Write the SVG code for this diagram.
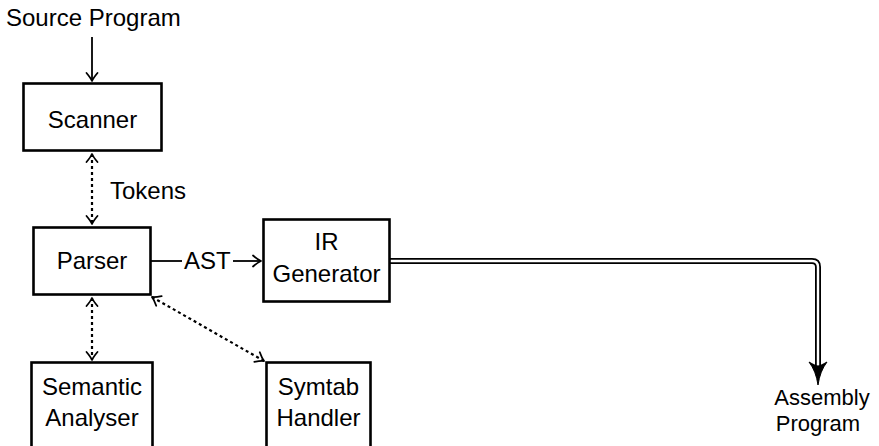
<svg xmlns="http://www.w3.org/2000/svg" width="879" height="446" viewBox="0 0 879 446">
  <style>
    .box { fill: #fff; stroke: #000; stroke-width: 2.6; }
    .lbl { font-family: "Liberation Sans", Arial, sans-serif; font-size: 24px; fill: #000; }
    .out { font-size: 22px; }
    .mid { text-anchor: middle; }
    .wire { fill: none; stroke: #000; stroke-width: 1.8; }
    .dots { stroke-dasharray: 3 3; stroke-width: 2.2; }
  </style>
  <defs>
    <marker id="to" markerUnits="userSpaceOnUse" viewBox="-10 -7 12 14" refX="0" refY="0" markerWidth="12" markerHeight="14" orient="auto-start-reverse">
      <path d="M-8,-5.5 Q-3,-1.3 0,0 Q-3,1.3 -8,5.5" fill="none" stroke="#000" stroke-width="1.8" stroke-linecap="round" stroke-linejoin="round"/>
    </marker>
  </defs>

  <!-- connectors -->
  <g id="connectors">
    <text class="lbl" x="6" y="26">Source Program</text>
    <line class="wire" x1="92" y1="37" x2="92" y2="81" marker-end="url(#to)"/>

    <line class="wire dots" x1="92" y1="154" x2="92" y2="224" marker-start="url(#to)" marker-end="url(#to)"/>
    <text class="lbl" x="110" y="199">Tokens</text>

    <line class="wire" x1="151" y1="261" x2="182" y2="261"/>
    <text class="lbl" x="184" y="269">AST</text>
    <line class="wire" x1="233" y1="261" x2="261" y2="261" marker-end="url(#to)"/>

    <line class="wire dots" x1="92" y1="298" x2="92" y2="360" marker-start="url(#to)" marker-end="url(#to)"/>
    <line class="wire dots" x1="152" y1="297" x2="264" y2="361" marker-start="url(#to)" marker-end="url(#to)"/>

    <!-- double-stroked output path -->
    <path d="M390,261 H812 Q818,261 818,267 V368" fill="none" stroke="#000" stroke-width="6"/>
    <path d="M389,261 H812 Q818,261 818,267 V370" fill="none" stroke="#fff" stroke-width="2.4"/>
    <path d="M818,385 Q820,371 827,362 Q820,366 818,366 Q816,366 809,362 Q816,371 818,385 Z" fill="#000" stroke="#000" stroke-width="1" stroke-linejoin="round"/>
    <text class="lbl out mid" x="822" y="405">Assembly</text>
    <text class="lbl out mid" x="818" y="431">Program</text>
  </g>

  <g id="scanner">
    <rect class="box" x="23.5" y="83.5" width="138" height="67"/>
    <text class="lbl mid" x="92.5" y="128">Scanner</text>
  </g>

  <g id="parser">
    <rect class="box" x="33.5" y="227.5" width="117" height="67"/>
    <text class="lbl mid" x="92" y="269">Parser</text>
  </g>

  <g id="ir-generator">
    <rect class="box" x="263.5" y="219.5" width="126" height="82"/>
    <text class="lbl mid" x="326.5" y="250">IR</text>
    <text class="lbl mid" x="326.5" y="282">Generator</text>
  </g>

  <g id="semantic-analyser">
    <rect class="box" x="31.5" y="362.5" width="121" height="90"/>
    <text class="lbl mid" x="92" y="395">Semantic</text>
    <text class="lbl mid" x="92" y="426">Analyser</text>
  </g>

  <g id="symtab-handler">
    <rect class="box" x="266.5" y="362.5" width="104" height="90"/>
    <text class="lbl mid" x="318.5" y="395">Symtab</text>
    <text class="lbl mid" x="318.5" y="426">Handler</text>
  </g>
</svg>
